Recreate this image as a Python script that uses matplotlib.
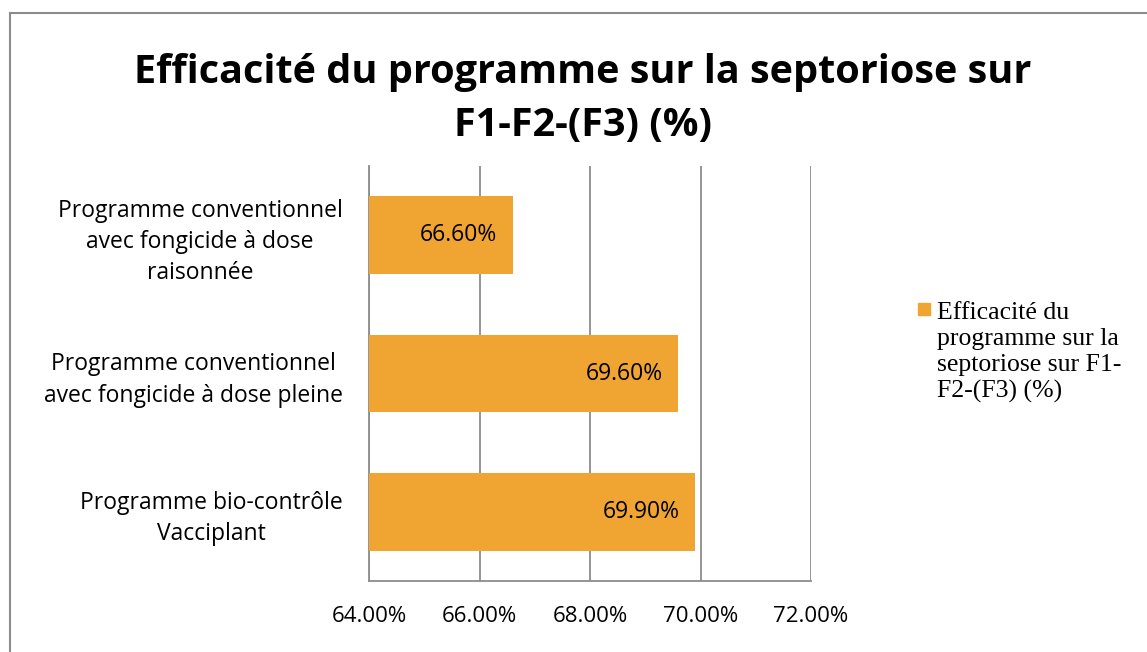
import matplotlib.pyplot as plt
from matplotlib.patches import Rectangle

# efficacy of each programme on septoria, F1-F2-(F3), in %
programmes = [
    "Programme bio-contrôle\nVacciplant",
    "Programme conventionnel\navec fongicide à dose pleine",
    "Programme conventionnel\navec fongicide à dose\nraisonnée",
]
efficacite = [69.9, 69.6, 66.6]
xticks = [64, 66, 68, 70, 72]

bar_color = "#F0A431"
line_color = "#8C8C8C"
sans = "Open Sans"

fig = plt.figure(figsize=(11.47, 6.52), dpi=100)
ax = fig.add_axes([369 / 1147, 1 - 581 / 652, 442 / 1147, 415 / 652])

ax.barh(range(len(programmes)), efficacite, height=0.56, left=0, color=bar_color, zorder=3)
ax.set_xlim(64, 72)
ax.set_ylim(-0.5, 2.5)

for i, v in enumerate(efficacite):
    ax.text(v - 0.28, i, f"{v:.2f}%", ha="right", va="center",
            fontsize=16.5, family=sans, color="black", zorder=4)

ax.set_xticks(xticks)
ax.set_xticklabels([f"{t:.2f}%" for t in xticks], family=sans, fontsize=16)
ax.set_yticks(range(len(programmes)))
ax.set_yticklabels(programmes, family=sans, fontsize=16.5,
                   multialignment="center", linespacing=1.4)
ax.tick_params(axis="both", length=0)
ax.tick_params(axis="x", pad=18)
ax.tick_params(axis="y", pad=19)
ax.grid(axis="x", color=line_color, linewidth=1.3, zorder=0)
for s in ["top", "right"]:
    ax.spines[s].set_visible(False)
for s in ["left", "bottom"]:
    ax.spines[s].set_color(line_color)
    ax.spines[s].set_linewidth(1.3)

fig.text(0.508, 1 - 99 / 652, "Efficacité du programme sur la septoriose sur\nF1-F2-(F3) (%)",
         ha="center", va="center", fontsize=28.5, fontweight="bold", family=sans,
         linespacing=1.45)

# legend drawn as a square marker plus serif text
fig.patches.append(Rectangle((918 / 1147, 1 - 315 / 652), 12 / 1147, 12 / 652,
                             transform=fig.transFigure, color=bar_color))
fig.text(937 / 1147, 1 - 302 / 652,
         "Efficacité du\nprogramme sur la\nseptoriose sur F1-\nF2-(F3) (%)",
         ha="left", va="top", fontsize=18.5, family="Liberation Serif",
         linespacing=1.24)

# outer frame
fig.patches.append(Rectangle((9.5 / 1147, -0.1), 1.2, 1 - 12.5 / 652 + 0.1,
                             transform=fig.transFigure, fill=False,
                             edgecolor=line_color, linewidth=1.5))

fig.savefig("out.png", dpi=100)
